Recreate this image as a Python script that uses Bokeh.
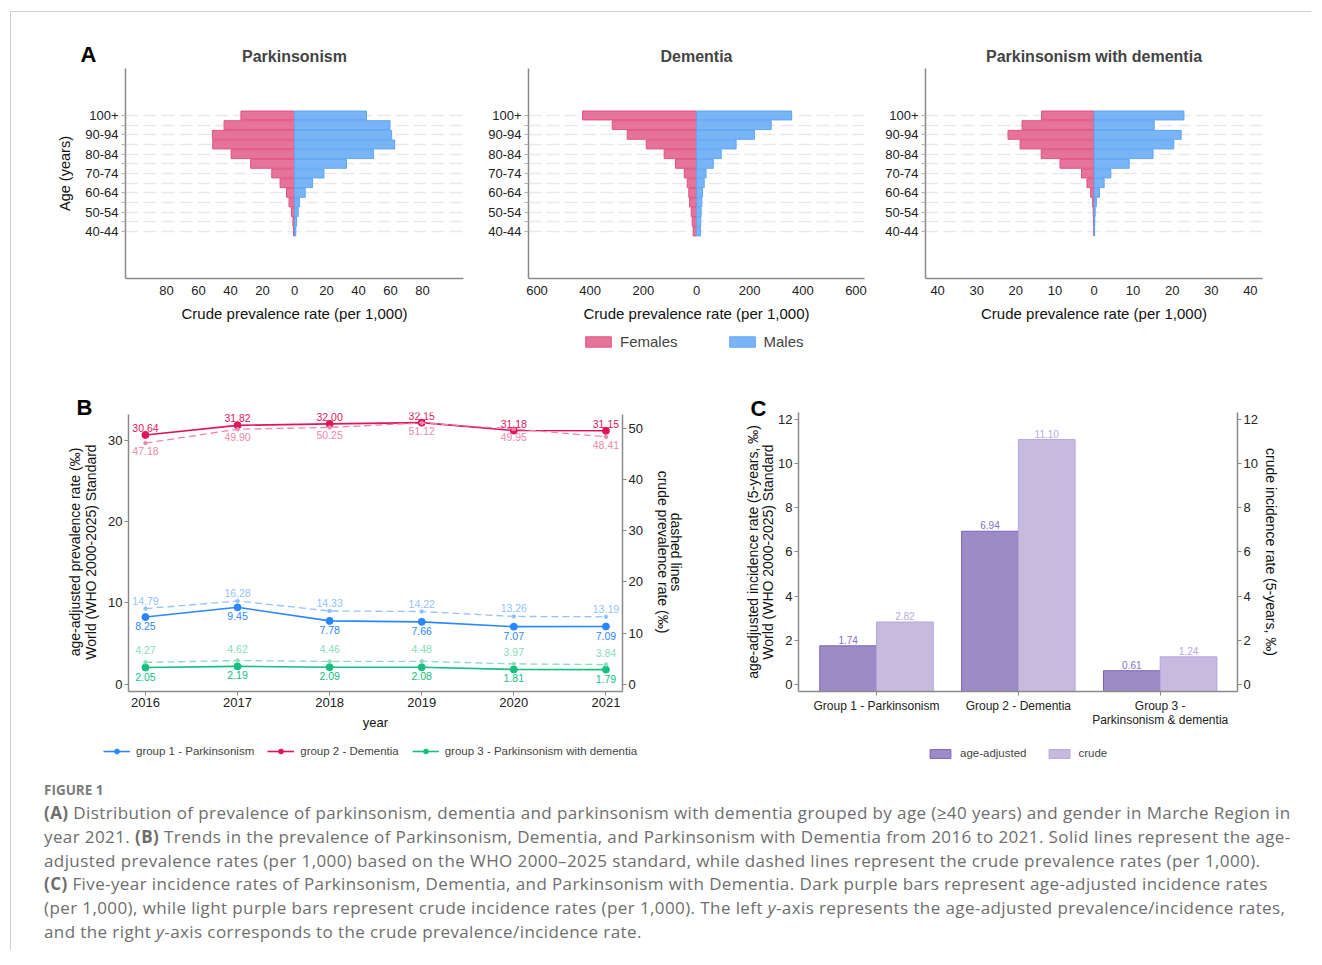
from bokeh.plotting import figure
from bokeh.models import (FixedTicker, LinearAxis, Range1d, Legend, LegendItem, Title,
                          LabelSet, ColumnDataSource, Div)
from bokeh.layouts import row, column
from bokeh.embed import file_html
from bokeh.resources import INLINE
from bokeh.core.properties import value

FONT = "Liberation Sans"

# ---------------- Panel A data (crude prevalence per 1,000, 2021) ----------------
age_groups = ["40-44", "45-49", "50-54", "55-59", "60-64", "65-69", "70-74",
              "75-79", "80-84", "85-89", "90-94", "95-99", "100+"]
park_f = [0.6, 1.0, 1.9, 3.4, 5.0, 9.0, 14.2, 27.4, 39.6, 51.1, 51.3, 44.0, 33.5]
park_m = [0.8, 1.3, 2.3, 3.1, 6.7, 11.3, 18.4, 32.5, 49.4, 62.6, 60.7, 59.7, 45.0]
dem_f = [12.5, 16, 20, 26, 29, 35, 46, 79, 121.5, 189, 260.6, 317, 428.6]
dem_m = [15, 16, 17.5, 20, 22.5, 29, 36, 63, 93, 149, 218, 281, 358]
pwd_f = [0.05, 0.15, 0.2, 0.35, 0.85, 1.8, 3.2, 8.7, 13.5, 18.9, 22.0, 18.4, 13.4]
pwd_m = [0.15, 0.2, 0.3, 0.6, 1.4, 2.6, 4.3, 9.0, 15.1, 20.4, 22.3, 15.4, 23.0]

# ---------------- Panel B data ----------------
years = [2016, 2017, 2018, 2019, 2020, 2021]
adj_g1 = [8.25, 9.45, 7.78, 7.66, 7.07, 7.09]
adj_g2 = [30.64, 31.82, 32.00, 32.15, 31.18, 31.15]
adj_g3 = [2.05, 2.19, 2.09, 2.08, 1.81, 1.79]
crude_g1 = [14.79, 16.28, 14.33, 14.22, 13.26, 13.19]
crude_g2 = [47.18, 49.90, 50.25, 51.12, 49.95, 48.41]
crude_g3 = [4.27, 4.62, 4.46, 4.48, 3.97, 3.84]
group_names = ["group 1 - Parkinsonism", "group 2 - Dementia",
               "group 3 - Parkinsonism with dementia"]

# ---------------- Panel C data ----------------
groups_c_line1 = ["Group 1 - Parkinsonism", "Group 2 - Dementia", "Group 3 -"]
groups_c_line2 = ["", "", "Parkinsonism & dementia"]
inc_adj = [1.74, 6.94, 0.61]
inc_crude = [2.82, 11.10, 1.24]

# ---------------- colours ----------------
FEM, FEM_LINE = "#E6739A", "#E0527F"
MAL, MAL_LINE = "#79B4F7", "#5FA4F4"
C1, C1L = "#2B87FF", "#93C2FF"
C2, C2L = "#E0145A", "#EE88A9"
C3, C3L = "#14BF7F", "#88DDBA"
DARK, DARK_LINE, DARK_TXT = "#9D8BC8", "#7C62B8", "#8470C2"
LIGHT, LIGHT_LINE, LIGHT_TXT = "#C6BBDF", "#B4A4DA", "#B6A9DE"
AXIS = "#8a8a8a"


def style_axis(ax, tick_size="13px", label_size="14px"):
    ax.axis_line_color = AXIS
    ax.axis_line_width = 1.5
    ax.major_tick_line_color = AXIS
    ax.minor_tick_line_color = None
    ax.major_tick_in = 0
    ax.major_tick_out = 4
    ax.major_label_text_font = FONT
    ax.major_label_text_font_size = tick_size
    ax.major_label_text_color = "#222222"
    ax.axis_label_text_font = FONT
    ax.axis_label_text_font_size = label_size
    ax.axis_label_text_font_style = "normal"
    ax.axis_label_text_color = "#111111"


def label_only_axis(label, size="14px", standoff=0, **kw):
    ax = LinearAxis(ticker=FixedTicker(ticks=[]), axis_label=label, **kw)
    ax.axis_line_color = None
    ax.major_tick_line_color = None
    ax.minor_tick_line_color = None
    ax.major_tick_out = 0
    ax.major_tick_in = 0
    ax.major_label_standoff = 0
    ax.major_label_text_font_size = "1px"
    ax.axis_label_text_font = FONT
    ax.axis_label_text_font_size = size
    ax.axis_label_text_font_style = "normal"
    ax.axis_label_text_color = "#111111"
    ax.axis_label_standoff = standoff
    return ax


def letter_title(p, txt, offset, standoff):
    p.add_layout(Title(text=txt, align="left", offset=offset, standoff=standoff,
                       text_font=FONT, text_font_size="22px", text_font_style="bold",
                       text_color="#000000"), "above")


def legend_figure(width, height):
    f = figure(width=width, height=height, x_range=Range1d(0, 1), y_range=Range1d(0, 1),
               x_axis_type=None, y_axis_type=None, output_backend="svg",
               toolbar_location=None, min_border=0)
    f.grid.visible = False
    f.outline_line_color = None
    return f


def add_legend(f, items, loc, size, gw, gh, standoff, spacing):
    f.add_layout(Legend(items=items, orientation="horizontal", location=loc,
                        label_text_font=FONT, label_text_font_size=size,
                        glyph_width=gw, glyph_height=gh, label_height=gh,
                        label_standoff=standoff, spacing=spacing, margin=0, padding=0,
                        border_line_color=None, background_fill_alpha=0,
                        inactive_fill_alpha=0))


def pyramid(title, fem, mal, xlim, tick_step, width, height, bl, br, ylabel=None):
    p = figure(width=width, height=height, x_range=Range1d(-xlim, xlim), title=None,
               y_range=Range1d(-4.86, 16.86), output_backend="svg", toolbar_location=None,
               min_border_left=bl, min_border_right=br, min_border_top=56,
               min_border_bottom=height - 56 - 210)
    p.outline_line_color = None
    p.add_layout(Title(text=title, align="center", standoff=8, text_font=FONT,
                       text_font_size="16px", text_font_style="bold"), "above")
    ypos = list(range(len(age_groups)))
    p.hbar(y=ypos, left=[-v for v in fem], right=0, height=0.92,
           fill_color=FEM, line_color=FEM_LINE, line_width=1)
    p.hbar(y=ypos, left=0, right=mal, height=0.92,
           fill_color=MAL, line_color=MAL_LINE, line_width=1)
    p.xgrid.grid_line_color = None
    p.ygrid.ticker = FixedTicker(ticks=ypos)
    p.ygrid.grid_line_color = "#e9e9e9"
    p.ygrid.grid_line_dash = "13 5"
    p.ygrid.grid_line_width = 1.5
    ticks = [int(k * tick_step) for k in range(-4, 5)]
    p.xaxis.ticker = FixedTicker(ticks=ticks)
    p.xaxis.major_label_overrides = {t: str(abs(t)) for t in ticks}
    p.yaxis.ticker = FixedTicker(ticks=ypos[::2], minor_ticks=ypos[1::2])
    p.yaxis.major_label_overrides = {i: age_groups[i] for i in ypos[::2]}
    style_axis(p.xaxis[0], "13px", "15px")
    style_axis(p.yaxis[0], "13px", "14.5px")
    p.xaxis.major_tick_out = 0
    p.xaxis.major_label_standoff = 7
    p.xaxis.axis_label = "Crude prevalence rate (per 1,000)"
    p.xaxis.axis_label_standoff = 7
    p.yaxis.major_label_standoff = 3
    p.yaxis.major_tick_line_color = "#b0b0b0"
    p.yaxis.minor_tick_line_color = "#b0b0b0"
    p.yaxis.minor_tick_in = 0
    p.yaxis.minor_tick_out = 4
    if ylabel:
        p.yaxis.axis_label = ylabel
        p.yaxis.axis_label_standoff = 9
    return p


# ---------------- Panel A ----------------
pA1 = pyramid("Parkinsonism", park_f, park_m, 105.6, 20, 467, 318, 114, 15, "Age (years)")
letter_title(pA1, "A", -45, -50)
pA2 = pyramid("Dementia", dem_f, dem_m, 632, 200, 397, 318, 50, 11)
pA3 = pyramid("Parkinsonism with dementia", pwd_f, pwd_m, 43.1, 10, 410, 318, 50, 23)

legA_fig = legend_figure(1300, 35)
ypos_all = list(range(len(age_groups)))
lf = legA_fig.hbar(y=ypos_all, left=[-v for v in dem_f], right=0, height=0.92,
                   fill_color=FEM, line_color=FEM_LINE, visible=False)
lm = legA_fig.hbar(y=ypos_all, left=0, right=dem_m, height=0.92,
                   fill_color=MAL, line_color=MAL_LINE, visible=False)
add_legend(legA_fig, [LegendItem(label="Females", renderers=[lf]),
                      LegendItem(label="Males", renderers=[lm])],
           (571, 15), "15px", 32, 13, 6, 48)

# ---------------- Panel B ----------------
pB = figure(width=689, height=372, x_range=Range1d(2015.816, 2021.18),
            y_range=Range1d(-0.9, 33.4), output_backend="svg", toolbar_location=None,
            min_border_left=117, min_border_right=78, min_border_top=40, min_border_bottom=46)
pB.outline_line_color = None
pB.grid.grid_line_color = None
pB.extra_y_ranges = {"crude": Range1d(-1.43, 53.17)}
axB_left = pB.yaxis[0]
axB_right = LinearAxis(y_range_name="crude")
pB.add_layout(axB_right, "right")
pB.xaxis.ticker = FixedTicker(ticks=years)
axB_left.ticker = FixedTicker(ticks=[0, 10, 20, 30])
axB_right.ticker = FixedTicker(ticks=[0, 10, 20, 30, 40, 50])
axB_left.bounds = (-0.9, 33.2)
axB_right.bounds = (-1.43, 52.87)
for ax in [pB.xaxis[0], axB_left, axB_right]:
    style_axis(ax, "13px", "14px")
    ax.major_label_standoff = 2
pB.xaxis.axis_label = "year"
pB.xaxis.axis_label_text_font_size = "13px"
pB.xaxis.axis_label_standoff = 5
axB_left.axis_label = "World (WHO 2000-2025) Standard"
axB_left.axis_label_standoff = 6
pB.add_layout(label_only_axis("age-adjusted prevalence rate (‰)", standoff=-2), "left")
axB_right.axis_label = "crude prevalence rate (‰)"
axB_right.axis_label_standoff = 9
pB.add_layout(label_only_axis("dashed lines", standoff=-6, y_range_name="crude"), "right")
letter_title(pB, "B", -52, -15)

series = [(adj_g1, crude_g1, C1, C1L, -9, 8),
          (adj_g2, crude_g2, C2, C2L, 7, -8),
          (adj_g3, crude_g3, C3, C3L, -9, 12)]
legBC_fig = legend_figure(1300, 33)
legend_items_B = []
for (adj, crude, col, coll, off_adj, off_crude), name in zip(series, group_names):
    pB.line(years, adj, line_color=col, line_width=1.6)
    pB.scatter(years, adj, size=7, fill_color=col, line_color=col)
    pB.line(years, crude, y_range_name="crude", line_color=coll, line_width=1.3, line_dash="7 4")
    pB.scatter(years, crude, y_range_name="crude", size=3.5, fill_color=coll, line_color=coll)
    src_a = ColumnDataSource(dict(x=years, y=adj, t=[f"{v:.2f}" for v in adj]))
    src_c = ColumnDataSource(dict(x=years, y=crude, t=[f"{v:.2f}" for v in crude]))
    pB.add_layout(LabelSet(x="x", y="y", text="t", source=src_a, y_offset=off_adj,
                           text_align="center", text_baseline="middle",
                           text_font=value(FONT), text_font_size=value("10.5px"),
                           text_color=col))
    pB.add_layout(LabelSet(x="x", y="y", text="t", source=src_c, y_range_name="crude",
                           y_offset=off_crude, text_align="center", text_baseline="middle",
                           text_font=value(FONT), text_font_size=value("10.5px"),
                           text_color=coll))
    gl = legBC_fig.line(years, adj, line_color=col, line_width=1.6, visible=False)
    gs = legBC_fig.scatter(years, adj, size=6, fill_color=col, line_color=col, visible=False)
    legend_items_B.append(LegendItem(label=name, renderers=[gl, gs]))
add_legend(legBC_fig, legend_items_B, (92, 13), "11.5px", 27, 12, 6, 13)

# ---------------- Panel C ----------------
pC = figure(width=590, height=372, x_range=Range1d(-0.55, 2.545),
            y_range=Range1d(-0.333, 12.33), output_backend="svg", toolbar_location=None,
            min_border_left=98, min_border_right=53, min_border_top=47, min_border_bottom=44)
pC.outline_line_color = None
pC.grid.grid_line_color = None
pC.extra_y_ranges = {"crude": Range1d(-0.333, 12.33)}
axC_left = pC.yaxis[0]
axC_right = LinearAxis(y_range_name="crude")
pC.add_layout(axC_right, "right")
xs = list(range(len(groups_c_line1)))
base = pC.y_range.start
pC.vbar(x=[x - 0.2 for x in xs], top=inc_adj, bottom=base, width=0.4,
        fill_color=DARK, line_color=DARK_LINE, line_width=1)
pC.vbar(x=[x + 0.2 for x in xs], top=inc_crude, bottom=base, width=0.4,
        y_range_name="crude", fill_color=LIGHT, line_color=LIGHT_LINE, line_width=1)
pC.add_layout(LabelSet(x="x", y="y", text="t", y_offset=2, text_align="center",
                       text_baseline="bottom", text_font=value(FONT),
                       text_font_size=value("10px"), text_color=DARK_TXT,
                       source=ColumnDataSource(dict(x=[x - 0.2 for x in xs], y=inc_adj,
                                                    t=[f"{v:.2f}" for v in inc_adj]))))
pC.add_layout(LabelSet(x="x", y="y", text="t", y_offset=2, text_align="center",
                       text_baseline="bottom", text_font=value(FONT),
                       text_font_size=value("10px"), text_color=LIGHT_TXT,
                       y_range_name="crude",
                       source=ColumnDataSource(dict(x=[x + 0.2 for x in xs], y=inc_crude,
                                                    t=[f"{v:.2f}" for v in inc_crude]))))
axC_x = pC.xaxis[0]
axC_x.ticker = FixedTicker(ticks=xs)
axC_x.major_label_overrides = {i: g for i, g in zip(xs, groups_c_line1)}
axC_left.ticker = FixedTicker(ticks=[0, 2, 4, 6, 8, 10, 12])
axC_right.ticker = FixedTicker(ticks=[0, 2, 4, 6, 8, 10, 12])
for ax in [axC_x, axC_left, axC_right]:
    style_axis(ax, "13px", "14px")
    ax.major_label_standoff = 2
axC_x.major_label_text_font_size = "12px"
axC_x.major_label_standoff = 3
line2_ticks = [i for i, g in zip(xs, groups_c_line2) if g]
ax2 = LinearAxis(ticker=FixedTicker(ticks=line2_ticks))
ax2.major_label_overrides = {i: g for i, g in zip(xs, groups_c_line2) if g}
ax2.axis_line_color = None
ax2.major_tick_line_color = None
ax2.minor_tick_line_color = None
ax2.major_tick_out = 0
ax2.major_tick_in = 0
ax2.major_label_standoff = -3
ax2.major_label_text_font = FONT
ax2.major_label_text_font_size = "12px"
ax2.major_label_text_color = "#222222"
pC.add_layout(ax2, "below")
axC_left.axis_label = "World (WHO 2000-2025) Standard"
axC_left.axis_label_standoff = -1
pC.add_layout(label_only_axis("age-adjusted incidence rate (5-years, ‰)", standoff=-3), "left")
axC_right.axis_label = "crude incidence rate (5-years, ‰)"
axC_right.axis_label_standoff = 2
letter_title(pC, "C", -48, -17)

ld = legBC_fig.vbar(x=xs, top=inc_adj, width=0.4, fill_color=DARK, line_color=DARK_LINE,
                    visible=False)
ll = legBC_fig.vbar(x=xs, top=inc_crude, width=0.4, fill_color=LIGHT, line_color=LIGHT_LINE,
                    visible=False)
add_legend(legBC_fig, [LegendItem(label="age-adjusted", renderers=[ld]),
                       LegendItem(label="crude", renderers=[ll])],
           (916, 11), "11.5px", 26, 11, 7, 19)

# ---------------- caption ----------------
caption_html = (
    "<div style=\"padding:9px 0 0 33px; font-family:'Open Sans',sans-serif; color:#6e6e6e; "
    "white-space:nowrap;\">"
    "<div style=\"font-size:13.5px; font-weight:700; line-height:22px; "
    "color:#7c7c7c;\">FIGURE 1</div>"
    "<div style=\"font-size:17px; letter-spacing:0.4px; line-height:23.8px;\">"
    "<b>(A)</b> Distribution of prevalence of parkinsonism, dementia and parkinsonism with dementia "
    "grouped by age (≥40 years) and gender in Marche Region in<br>"
    "year 2021. <b>(B)</b> Trends in the prevalence of Parkinsonism, Dementia, and Parkinsonism with "
    "Dementia from 2016 to 2021. Solid lines represent the age-<br>"
    "adjusted prevalence rates (per 1,000) based on the WHO 2000–2025 standard, while dashed lines "
    "represent the crude prevalence rates (per 1,000).<br>"
    "<b>(C)</b> Five-year incidence rates of Parkinsonism, Dementia, and Parkinsonism with Dementia. "
    "Dark purple bars represent age-adjusted incidence rates<br>"
    "(per 1,000), while light purple bars represent crude incidence rates (per 1,000). The left "
    "<i>y</i>-axis represents the age-adjusted prevalence/incidence rates,<br>"
    "and the right <i>y</i>-axis corresponds to the crude prevalence/incidence rate."
    "</div></div>"
)
cap = Div(text=caption_html, width=1300, height=180, margin=0)

layout = column(row(pA1, pA2, pA3), legA_fig, row(pB, pC), legBC_fig, cap,
                margin=(11, 0, 0, 10),
                styles={"border-top": "1px solid #cfcfcf", "border-left": "1px solid #cfcfcf"})

open("out.html", "w").write(file_html(layout, INLINE))
